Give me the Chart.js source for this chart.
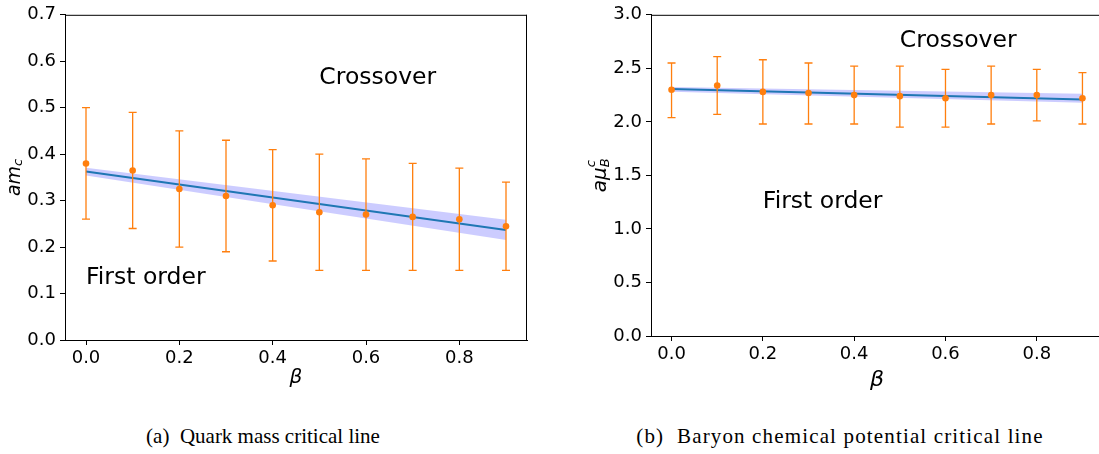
<!DOCTYPE html>
<html>
<head>
<meta charset="utf-8">
<script src="https://cdn.jsdelivr.net/npm/chart.js@4"></script>
<style>
  html, body { margin:0; padding:0; background:#fff; width:1099px; height:454px; overflow:hidden; }
  canvas { position:absolute; top:0; }
  .cap { position:absolute; font-family:"Liberation Serif","Times New Roman",serif; font-size:21px; color:#000; white-space:nowrap; transform:translateX(-50%); top:424px; }
</style>
</head>
<body>
<canvas id="c1" width="560" height="400" style="left:0px"></canvas>
<canvas id="c2" width="530" height="400" style="left:580px"></canvas>
<div class="cap" style="left:263px">(a)&nbsp; Quark mass critical line</div>
<div class="cap" style="left:840px; letter-spacing:1.15px">(b)&nbsp; Baryon chemical potential critical line</div>
<script>
// ---------- data ----------
const beta = [0.0, 0.1, 0.2, 0.3, 0.4, 0.5, 0.6, 0.7, 0.8, 0.9];
const xTickVals = [0.0, 0.2, 0.4, 0.6, 0.8];

// (a) quark mass
const mc      = [0.38, 0.365, 0.325, 0.31, 0.29, 0.275, 0.27, 0.265, 0.26, 0.245];
const mcLow   = [0.26, 0.24, 0.20, 0.19, 0.17, 0.15, 0.15, 0.15, 0.15, 0.15];
const mcHigh  = [0.50, 0.49, 0.45, 0.43, 0.41, 0.40, 0.39, 0.38, 0.37, 0.34];
const fitBeta = [0.0, 0.9];
const mcFit      = [0.3625, 0.2367];
const mcBandLow  = [0.354, 0.215];
const mcBandHigh = [0.371, 0.259];
const mcYTicks = [0.0, 0.1, 0.2, 0.3, 0.4, 0.5, 0.6, 0.7];

// (b) baryon chemical potential
const muB     = [2.30, 2.34, 2.28, 2.27, 2.25, 2.24, 2.22, 2.25, 2.25, 2.22];
const muBLow  = [2.04, 2.07, 1.98, 1.98, 1.98, 1.95, 1.95, 1.98, 2.01, 1.98];
const muBHigh = [2.55, 2.61, 2.58, 2.55, 2.52, 2.52, 2.49, 2.52, 2.49, 2.46];
const muBFit      = [2.306, 2.21];
const muBBandLow  = [2.282, 2.179];
const muBBandHigh = [2.326, 2.262];
const muBYTicks = [0.0, 0.5, 1.0, 1.5, 2.0, 2.5, 3.0];

const ORANGE = '#ff7f0e', BLUE = '#1f77b4', BAND = 'rgba(0,0,255,0.2)';
const FONT = '"DejaVu Sans", sans-serif';
const TICK_SIZE = 18;

function pts(xs, ys) { return xs.map((x, i) => ({x: x, y: ys[i]})); }

function makeChart(id, o) {
  const errPlugin = {
    id: 'err',
    afterDatasetDraw(chart, args) {
      if (args.index !== 1) return;
      const ctx = chart.ctx, xs = chart.scales.x, ys = chart.scales.y;
      ctx.save();
      ctx.strokeStyle = ORANGE; ctx.lineWidth = 1.3;
      o.x.forEach((b, i) => {
        const px = xs.getPixelForValue(b);
        const y1 = ys.getPixelForValue(o.low[i]), y2 = ys.getPixelForValue(o.high[i]);
        ctx.beginPath();
        ctx.moveTo(px, y1); ctx.lineTo(px, y2);
        ctx.moveTo(px - 4, y1); ctx.lineTo(px + 4, y1);
        ctx.moveTo(px - 4, y2); ctx.lineTo(px + 4, y2);
        ctx.stroke();
      });
      ctx.restore();
    }
  };
  const decoPlugin = {
    id: 'deco',
    afterDraw(chart) {
      const ctx = chart.ctx, a = chart.chartArea, xs = chart.scales.x, ys = chart.scales.y;
      ctx.save();
      ctx.strokeStyle = '#000'; ctx.lineWidth = 1;
      ctx.beginPath();
      ctx.moveTo(a.left, a.top + 0.5); ctx.lineTo(a.right, a.top + 0.5);
      ctx.moveTo(a.right - 0.5, a.top); ctx.lineTo(a.right - 0.5, a.bottom);
      ctx.stroke();
      ctx.fillStyle = '#000';
      ctx.font = '23.5px ' + FONT;
      ctx.textAlign = 'left'; ctx.textBaseline = 'alphabetic';
      o.notes.forEach(n => ctx.fillText(n.t, xs.getPixelForValue(n.x), ys.getPixelForValue(n.y)));
      ctx.font = 'italic ' + o.betaSize + 'px ' + FONT;
      ctx.textAlign = 'center'; ctx.textBaseline = 'middle';
      ctx.fillText('β', (a.left + a.right) / 2, o.betaY);
      ctx.translate(o.yTitleX, (a.top + a.bottom) / 2);
      ctx.rotate(-Math.PI / 2);
      o.drawYTitle(ctx);
      ctx.restore();
    }
  };
  return new Chart(document.getElementById(id), {
    type: 'scatter',
    data: {
      datasets: [
        { data: pts(o.x, o.y), pointRadius: 3.3, pointBackgroundColor: ORANGE, pointBorderWidth: 0, showLine: false },
        { data: pts(fitBeta, o.fit), showLine: true, borderColor: BLUE, borderWidth: 2, pointRadius: 0, fill: false },
        { data: pts(fitBeta, o.bandLow), showLine: true, borderWidth: 0, borderColor: 'rgba(0,0,0,0)', pointRadius: 0, fill: false },
        { data: pts(fitBeta, o.bandHigh), showLine: true, borderWidth: 0, borderColor: 'rgba(0,0,0,0)', pointRadius: 0, fill: '-1', backgroundColor: BAND }
      ]
    },
    options: {
      responsive: false, animation: false, devicePixelRatio: 1, events: [],
      layout: { padding: { top: 12, right: o.padRight, left: 0, bottom: 0 } },
      plugins: { legend: { display: false }, tooltip: { enabled: false } },
      scales: {
        x: {
          type: 'linear', min: -0.045, max: 0.945,
          afterBuildTicks: s => { s.ticks = xTickVals.map(v => ({ value: v })); },
          afterFit: s => { s.height = o.xAxisH; },
          ticks: { callback: v => v.toFixed(1), font: { family: FONT, size: TICK_SIZE }, color: '#000', padding: 3, maxRotation: 0, autoSkip: false },
          grid: { display: true, drawOnChartArea: false, drawTicks: true, tickLength: 5, color: '#000', tickWidth: 1 },
          border: { display: true, color: '#000', width: 1 }
        },
        y: {
          type: 'linear', min: o.ymin, max: o.ymax,
          afterBuildTicks: s => { s.ticks = o.yTicks.map(v => ({ value: v })); },
          afterFit: s => { s.width = o.yAxisW; },
          ticks: { callback: v => v.toFixed(1), font: { family: FONT, size: TICK_SIZE }, color: '#000', padding: 4, autoSkip: false },
          grid: { display: true, drawOnChartArea: false, drawTicks: true, tickLength: 5, color: '#000', tickWidth: 1 },
          border: { display: true, color: '#000', width: 1 }
        }
      }
    },
    plugins: [errPlugin, decoPlugin]
  });
}

makeChart('c1', {
  x: beta, y: mc, low: mcLow, high: mcHigh, fit: mcFit, bandLow: mcBandLow, bandHigh: mcBandHigh,
  ymin: 0, ymax: 0.7, yTicks: mcYTicks, yAxisW: 65, xAxisH: 60, padRight: 33,
  betaSize: 20, betaY: 378, yTitleX: 15,
  notes: [{ t: 'Crossover', x: 0.5, y: 0.55 }, { t: 'First order', x: 0.0, y: 0.12 }],
  drawYTitle(ctx) {
    ctx.textBaseline = 'middle';
    ctx.font = 'italic 19px ' + FONT;
    const w1 = ctx.measureText('am').width;
    ctx.font = 'italic 13px ' + FONT;
    const w2 = ctx.measureText('c').width;
    const x0 = -(w1 + w2) / 2;
    ctx.textAlign = 'left';
    ctx.font = 'italic 19px ' + FONT;
    ctx.fillText('am', x0, 0);
    ctx.font = 'italic 13px ' + FONT;
    ctx.fillText('c', x0 + w1, 4);
  }
});

makeChart('c2', {
  x: beta, y: muB, low: muBLow, high: muBHigh, fit: muBFit, bandLow: muBBandLow, bandHigh: muBBandHigh,
  ymin: 0, ymax: 3.0, yTicks: muBYTicks, yAxisW: 71, xAxisH: 64, padRight: 7,
  betaSize: 22, betaY: 380, yTitleX: 21,
  notes: [{ t: 'Crossover', x: 0.5, y: 2.70 }, { t: 'First order', x: 0.2, y: 1.2 }],
  drawYTitle(ctx) {
    ctx.textBaseline = 'middle';
    ctx.font = 'italic 20px ' + FONT;
    const w1 = ctx.measureText('aμ').width;
    ctx.font = 'italic 13px ' + FONT;
    const w2 = ctx.measureText('B').width;
    const x0 = -(w1 + w2) / 2;
    ctx.textAlign = 'left';
    ctx.font = 'italic 20px ' + FONT;
    ctx.fillText('aμ', x0, 0);
    ctx.font = 'italic 13px ' + FONT;
    ctx.fillText('B', x0 + w1, 5);
    ctx.fillText('c', x0 + w1, -9);
  }
});
</script>
</body>
</html>
